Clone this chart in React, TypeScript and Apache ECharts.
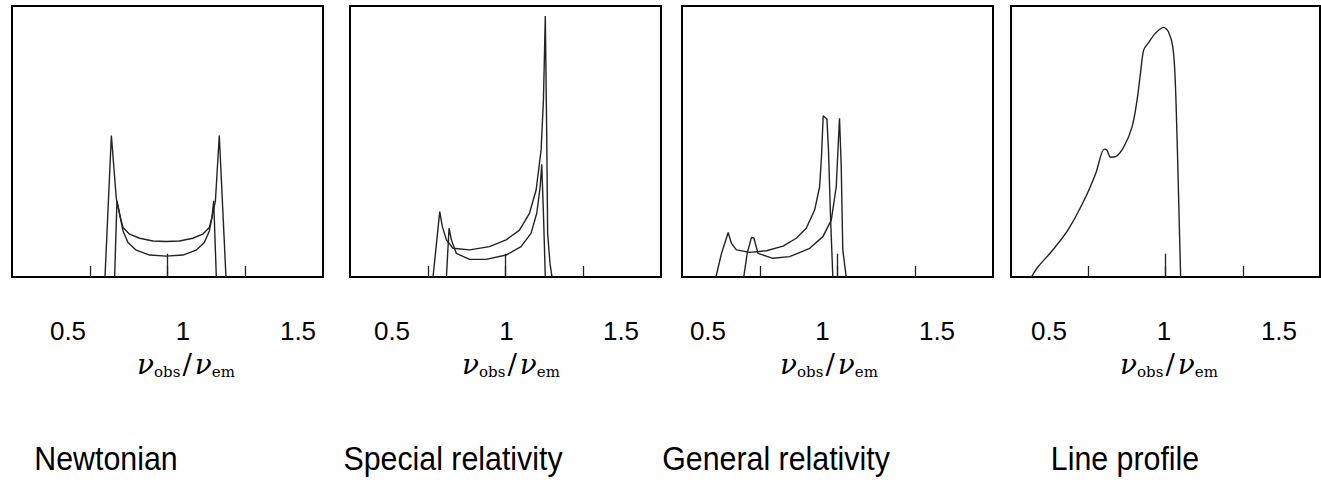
import React, { useEffect, useRef } from "react";
import * as echarts from "echarts";

// ---- data (x = nu_obs/nu_em, y = relative flux, 0..100 of panel height) ----
const panelTitles = ["Newtonian", "Special relativity", "General relativity", "Line profile"];
const tickValues = [0.5, 1, 1.5];
const tickLabels = ["0.5", "1", "1.5"];

const newtonianWide: [number, number][] = [
  [0.598, 0], [0.639, 52.2], [0.671, 28.8], [0.692, 23.2], [0.714, 17.0], [0.746, 12.7],
  [0.799, 9.9], [0.885, 8.1], [0.992, 7.7], [1.099, 8.1], [1.184, 9.9], [1.237, 12.7],
  [1.269, 17.0], [1.29, 23.2], [1.308, 28.0], [1.333, 52.2], [1.376, 0],
];
const newtonianNarrow: [number, number][] = [
  [0.66, 0], [0.675, 28.1], [0.697, 22.0], [0.714, 18.3], [0.756, 15.8], [0.821, 14.3],
  [0.906, 13.3], [0.992, 13.1], [1.077, 13.3], [1.162, 14.3], [1.226, 15.8], [1.269, 18.3],
  [1.286, 22.0], [1.297, 28.1], [1.314, 0],
];
const specialWide: [number, number][] = [
  [0.534, 0], [0.577, 24.1], [0.594, 18.6], [0.62, 13.7], [0.662, 10.6], [0.769, 10.0],
  [0.897, 11.2], [1.004, 13.7], [1.09, 17.3], [1.154, 23.5], [1.197, 32.1], [1.229, 46.9],
  [1.244, 65.3], [1.256, 96.3], [1.265, 53.0], [1.271, 16.1], [1.286, 5.1], [1.299, 0],
];
const specialNarrow: [number, number][] = [
  [0.62, 0], [0.637, 18.0], [0.652, 13.7], [0.684, 8.7], [0.769, 6.5], [0.876, 6.5],
  [1.004, 8.1], [1.1, 11.2], [1.164, 16.1], [1.201, 23.5], [1.223, 33.3], [1.233, 41.6],
  [1.244, 23.5], [1.256, 0],
];
const generalWide: [number, number][] = [
  [0.218, 0], [0.254, 8.7], [0.297, 16.4], [0.318, 12.4], [0.35, 10.0], [0.436, 9.1],
  [0.543, 9.7], [0.65, 11.4], [0.735, 14.3], [0.799, 18.0], [0.853, 24.7], [0.885, 33.3],
  [0.897, 44.4], [0.908, 59.5], [0.932, 58.3], [0.942, 46.9], [0.955, 22.3], [0.97, 0],
];
const generalNarrow: [number, number][] = [
  [0.397, 0], [0.42, 9.0], [0.447, 14.6], [0.462, 14.4], [0.489, 8.7], [0.585, 6.9],
  [0.692, 7.5], [0.821, 10.6], [0.906, 14.9], [0.96, 21.0], [0.992, 33.3], [1.006, 50.6],
  [1.013, 58.6], [1.024, 40.7], [1.034, 10.0], [1.056, 0],
];
const lineProfile: [number, number][] = [
  [0.132, 0], [0.175, 3.8], [0.261, 9.3], [0.368, 17.3], [0.474, 28.4], [0.549, 38.3],
  [0.603, 47.2], [0.62, 46.9], [0.645, 44.2], [0.677, 44.4], [0.731, 48.1], [0.784, 55.5],
  [0.816, 65.3], [0.838, 75.2], [0.859, 83.8], [0.891, 86.5], [0.934, 89.9], [0.987, 92.1],
  [1.019, 90.5], [1.047, 85.0], [1.062, 73.9], [1.077, 46.9], [1.088, 22.3], [1.098, 0],
];
const panelCurves: [number, number][][][] = [
  [newtonianWide, newtonianNarrow],
  [specialWide, specialNarrow],
  [generalWide, generalNarrow],
  [lineProfile],
];
const centerTickHeight = 8.6;

// ---- layout ----
const gridLeft = [12, 350, 682, 1011];
const gridWidth = [311, 311, 311, 309];
const labelAxisMin = [0.2565, 0.3166, 0.3865, 0.3348];
const labelAxisMax = [1.6087, 1.6747, 1.7445, 1.6783];
const nameCenter = [187, 512, 830, 1170];
const titleCenter = [106, 453, 776, 1125];

export default function App() {
  const ref = useRef<HTMLDivElement>(null);
  useEffect(() => {
    if (!ref.current) return;
    const chart = echarts.init(ref.current, null, { renderer: "svg" });
    const grid: any[] = [];
    const xAxis: any[] = [];
    const yAxis: any[] = [];
    const series: any[] = [];
    const graphic: any[] = [];
    for (let i = 0; i < 4; i++) {
      grid.push({
        left: gridLeft[i], width: gridWidth[i], top: 6, height: 271,
        show: true, borderColor: "#000", borderWidth: 2, backgroundColor: "transparent",
      });
      xAxis.push({
        type: "value", gridIndex: i, min: 0, max: 2, interval: 0.5,
        axisLine: { show: true, lineStyle: { color: "#000", width: 2 } },
        axisTick: { show: true, inside: true, length: 11, customValues: tickValues, lineStyle: { color: "#222", width: 1.3 } },
        axisLabel: { show: false },
        splitLine: { show: false },
      });
      xAxis.push({
        type: "value", gridIndex: i, position: "bottom", min: labelAxisMin[i], max: labelAxisMax[i],
        axisLine: { show: false }, axisTick: { show: false }, splitLine: { show: false },
        axisLabel: {
          show: true, customValues: tickValues, margin: 41, fontSize: 26,
          fontFamily: "Liberation Sans", color: "#000",
          formatter: (v: number) => tickLabels[tickValues.indexOf(v)] ?? String(v),
        },
      });
      yAxis.push({ type: "value", gridIndex: i, min: 0, max: 100, show: false });
      panelCurves[i].forEach((curve, k) => {
        series.push({
          type: "line", xAxisIndex: i * 2, yAxisIndex: i, data: curve,
          showSymbol: false, smooth: i === 3 ? 0.3 : false,
          lineStyle: { color: "#222", width: 1.4 },
          silent: true,
          markLine: k === 0 ? {
            silent: true, symbol: "none", label: { show: false },
            lineStyle: { color: "#222", width: 1.3, type: "solid" },
            data: [[{ coord: [1, 0] }, { coord: [1, centerTickHeight] }]],
          } : undefined,
        });
      });
      graphic.push({
        type: "text", x: nameCenter[i], y: 364,
        style: {
          text: "{nu|ν}{sub|obs}{sl|/}{nu|ν}{sub|em}",
          align: "center", verticalAlign: "middle", fill: "#000",
          rich: {
            nu: { fontFamily: "DejaVu Serif", fontStyle: "italic", fontSize: 28, lineHeight: 30 },
            sub: { fontFamily: "DejaVu Serif", fontSize: 15, verticalAlign: "bottom", lineHeight: 14, padding: [0, 2, 0, 0] },
            sl: { fontFamily: "DejaVu Serif", fontSize: 28, lineHeight: 30, padding: [0, 3, 0, 0] },
          },
        },
      });
      graphic.push({
        type: "text", x: titleCenter[i], y: 459, scaleX: 0.92,
        style: {
          text: panelTitles[i], fontSize: 33, fontFamily: "Liberation Sans",
          fill: "#000", align: "center", verticalAlign: "middle",
        },
      });
    }
    chart.setOption({ animation: false, grid, xAxis, yAxis, series, graphic });
    return () => chart.dispose();
  }, []);
  return <div ref={ref} style={{ position: "absolute", left: 0, top: 0, width: 1321, height: 483, background: "#fff" }} />;
}
